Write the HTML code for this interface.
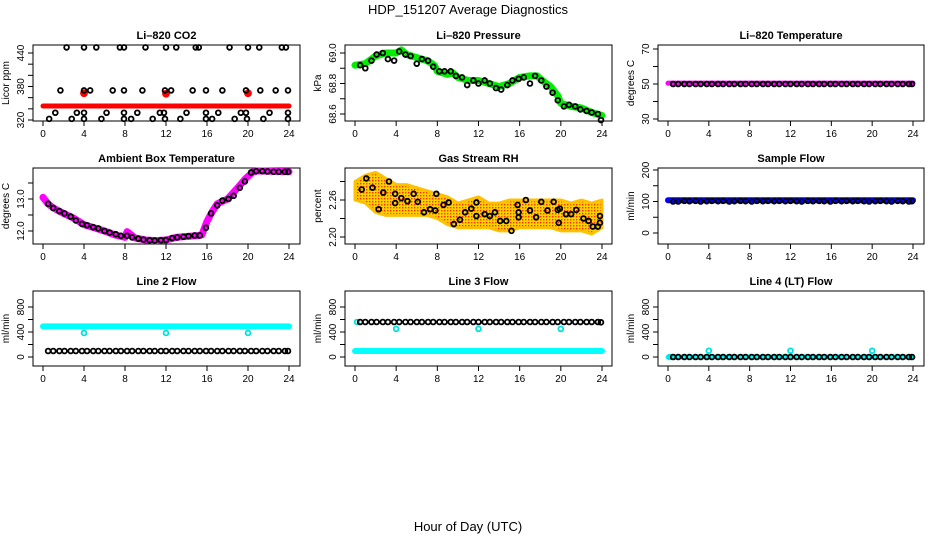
<!DOCTYPE html>
<html><head><meta charset="utf-8"><style>
body{margin:0;background:#fff;}
svg{display:block;font-family:"Liberation Sans",sans-serif;}
</style></head><body>
<svg id="c" width="936" height="540" viewBox="0 0 936 540">
<defs><pattern id="rhpat" width="3" height="3" patternUnits="userSpaceOnUse"><rect width="3" height="3" fill="#ffd200"/><rect x="0" y="0" width="1.4" height="1.4" fill="#ff3000"/></pattern></defs>
<text x="468" y="14" text-anchor="middle" font-size="13">HDP_151207  Average Diagnostics</text>
<text x="468" y="531" text-anchor="middle" font-size="13">Hour of Day (UTC)</text>
</svg>
<script>
const H=[0.5,1.0,1.6,2.1,2.7,3.2,3.8,4.3,4.9,5.4,6.0,6.5,7.1,7.6,8.2,8.7,9.3,9.8,10.4,10.9,11.5,12.0,12.6,13.1,13.7,14.2,14.8,15.3,15.9,16.4,17.0,17.5,18.1,18.6,19.2,19.7,20.3,20.8,21.4,21.9,22.5,23.0,23.6,23.9];
const xTicks=[0,4,8,12,16,20,24];
// CO2
const co2Hours=[2.3,4,5.2,7.5,7.9,10,12,13,14.9,15.2,18.2,20,21.1,23.3,23.7,1.7,4,4.6,6.8,7.9,9.7,11.9,12.5,14.6,15.9,17.5,19.8,21.2,22.7,23.9,1.2,3.3,4,6.2,7.9,9.2,11.4,11.8,14,15.9,17.1,19.3,19.8,22.1,23.9,0.6,2.8,4,5.7,7.9,8.6,10.7,11.9,13.4,15.9,16.5,18.7,19.9,21.5,23.9];
const co2Values=[450,450,450,450,450,450,450,450,450,450,450,450,450,450,450,373,373,373,373,373,373,373,373,373,373,373,373,373,373,373,333,333,333,333,333,333,333,333,333,333,333,333,333,333,333,322,322,322,322,322,322,322,322,322,322,322,322,322,322,322];
const co2BandHours=[0,6,12,18,24];
const co2BandValues=[345,345,345,345,345];
const co2RedHours=[4,12,20];
const co2RedValues=[368,367,368];
// Pressure
const presBandHours=[0,1,2,3,4,4.5,5,6,7,7.7,8,9,9.5,10,11,12,13,14,15,16,17,17.7,18,19,19.7,20,21,22,23,24];
const presBandValues=[68.92,68.93,68.98,69.0,69.0,69.02,68.99,68.97,68.95,68.92,68.88,68.86,68.87,68.84,68.82,68.82,68.80,68.78,68.80,68.84,68.85,68.85,68.83,68.78,68.72,68.67,68.65,68.64,68.61,68.59];
const presValues=[68.92,68.90,68.95,68.99,69.0,68.96,68.95,69.01,68.99,68.98,68.93,68.96,68.95,68.91,68.88,68.88,68.88,68.85,68.84,68.79,68.82,68.80,68.82,68.80,68.77,68.76,68.79,68.82,68.83,68.84,68.80,68.85,68.82,68.78,68.74,68.69,68.65,68.66,68.65,68.63,68.62,68.61,68.60,68.56];
// Li-820 temperature
const tempBandHours=[0,24];
const tempBandValues=[50.5,50.5];
const tempValues=[50,50,50,50,50,50,50,50,50,50,50,50,50,50,50,50,50,50,50,50,50,50,50,50,50,50,50,50,50,50,50,50,50,50,50,50,50,50,50,50,50,50,50,50];
// Ambient
const ambBandHours=[0,0.5,1,2,3,4,5,6,7,8,8.2,9,10,11,12,13,14,15,15.5,16,16.5,17,18,19,19.8,20.5,21,24];
const ambBandValues=[13.05,12.85,12.72,12.55,12.4,12.2,12.1,12.0,11.88,11.8,11.98,11.78,11.72,11.7,11.72,11.8,11.83,11.85,11.88,12.3,12.6,12.85,13.0,13.35,13.65,13.85,13.88,13.85];
const ambValues=[12.85,12.72,12.62,12.55,12.45,12.33,12.22,12.18,12.12,12.08,12.0,11.95,11.9,11.85,11.85,11.8,11.76,11.73,11.71,11.70,11.71,11.72,11.78,11.8,11.82,11.84,11.86,11.86,12.1,12.55,12.8,12.95,13.0,13.1,13.35,13.55,13.83,13.87,13.87,13.86,13.85,13.85,13.85,13.85];
// RH
const rhEnvHours=[0,1,2,3,4,5,6,7,8,9,10,11,12,13,14,15,16,17,18,19,20,21,22,23,24];
const rhUpper=[2.29,2.30,2.305,2.295,2.285,2.285,2.28,2.275,2.27,2.265,2.255,2.26,2.265,2.255,2.255,2.26,2.26,2.26,2.26,2.26,2.26,2.255,2.26,2.255,2.26];
const rhLower=[2.26,2.255,2.24,2.235,2.235,2.235,2.235,2.235,2.23,2.22,2.215,2.215,2.215,2.215,2.21,2.21,2.215,2.215,2.215,2.215,2.21,2.21,2.21,2.205,2.215];
const rhHours=[0.65,1.1,1.7,2.3,2.75,3.3,3.9,3.9,4.5,5.1,5.7,6.1,6.7,7.3,7.8,7.9,8.6,9.1,9.6,10.2,10.7,11.3,11.8,11.8,12.6,13.1,13.6,14.1,14.7,15.2,15.8,15.9,15.9,16.6,17,17.6,18.1,18.7,19.3,19.7,19.8,19.9,20.5,21,21.5,22.2,22.7,23.1,23.6,23.8,23.8];
const rhValues=[2.277,2.295,2.28,2.245,2.272,2.29,2.27,2.255,2.263,2.258,2.27,2.257,2.24,2.245,2.243,2.27,2.252,2.256,2.221,2.228,2.24,2.246,2.256,2.234,2.237,2.234,2.24,2.226,2.226,2.21,2.252,2.24,2.232,2.26,2.243,2.232,2.257,2.243,2.257,2.244,2.223,2.246,2.237,2.237,2.244,2.23,2.226,2.217,2.217,2.223,2.234];
// Sample flow
const sfBandHours=[0,24];
const sfBandValues=[104,104];
const sfValues=[100,100,102,101,102,100,101,102,101,102,100,101,102,101,100,102,101,102,101,102,101,102,101,100,102,101,102,101,100,102,101,102,101,102,101,100,101,102,101,100,102,101,100,101];
// Line 2
const l2BandHours=[0,24];
const l2BandValues=[490,490];
const l2Values=[96,96,96,96,96,96,96,96,96,96,96,96,96,96,96,96,96,96,96,96,96,96,96,96,96,96,96,96,96,96,96,96,96,96,96,96,96,96,96,96,96,96,96,96];
const l2OutHours=[4,12,20];
const l2OutValues=[385,385,385];
// Line 3
const l3BandHours=[0,24];
const l3BandValues=[96,96];
const l3Values=[560,560,560,560,560,560,560,560,560,560,560,560,560,560,560,560,560,560,560,560,560,560,560,560,560,560,560,560,560,560,560,560,560,560,560,560,560,560,560,560,560,560,560,555];
const l3OutHours=[0.2,4,12,20];
const l3OutValues=[560,450,450,450];
// Line 4
const l4BandHours=[0,24];
const l4BandValues=[0,0];
const l4Values=[0,0,0,0,0,0,0,0,0,0,0,0,0,0,0,0,0,0,0,0,0,0,0,0,0,0,0,0,0,0,0,0,0,0,0,0,0,0,0,0,0,0,0,0];
const l4OutHours=[0.2,4,12,20];
const l4OutValues=[0,100,100,100];

const NS='http://www.w3.org/2000/svg';
const svg=document.getElementById('c');
function mk(tag,attrs,parent){const e=document.createElementNS(NS,tag);for(const k in attrs)e.setAttribute(k,attrs[k]);(parent||svg).appendChild(e);return e;}
const cols=[{l:33,r:300,x0:43,x24:289},{l:345,r:612,x0:355,x24:602},{l:658,r:924,x0:668,x24:913}];
const rows=[{t:45,b:121},{t:168,b:244},{t:291,b:366}];

function panel(name,title,ci,ri,ylab,yTicks,yLabels,v1,p1,v2,p2){
  const c=cols[ci],r=rows[ri];
  const g=mk('g',{});
  
  
  const sx=h=>c.x0+(c.x24-c.x0)*h/24;
  const sy=v=>p1+(p2-p1)*(v-v1)/(v2-v1);
  const t=mk('text',{x:(c.l+c.r)/2,y:r.t-6,'text-anchor':'middle','font-size':11,'font-weight':'bold'},g);
  t.textContent=title;
  
  
  const box=mk('rect',{x:c.l,y:r.t,width:c.r-c.l,height:r.b-r.t,fill:'none',stroke:'#000','stroke-width':1},g);
  
  
  const xa=mk('g',{},g);
  
  
  mk('line',{x1:sx(0),x2:sx(24),y1:r.b,y2:r.b,stroke:'#000'},xa);
  xTicks.forEach(h=>{mk('line',{x1:sx(h),x2:sx(h),y1:r.b,y2:r.b+5,stroke:'#000'},xa);
    const tl=mk('text',{x:sx(h),y:r.b+16,'text-anchor':'middle','font-size':10},xa);tl.textContent=h;});
  const ya=mk('g',{},g);
  
  
  mk('line',{x1:c.l,x2:c.l,y1:sy(yTicks[0]),y2:sy(yTicks[yTicks.length-1]),stroke:'#000'},ya);
  yTicks.forEach(v=>{const y=sy(v);mk('line',{x1:c.l,x2:c.l-5,y1:y,y2:y,stroke:'#000'},ya);});
  yLabels.forEach(v=>{const y=sy(parseFloat(v));const x=c.l-9;
    const tl=mk('text',{x:x,y:y,'text-anchor':'middle','font-size':10,transform:`rotate(-90 ${x} ${y})`},ya);tl.textContent=v;});
  const yl=mk('text',{x:c.l-24,y:(r.t+r.b)/2,'text-anchor':'middle','font-size':10,transform:`rotate(-90 ${c.l-24} ${(r.t+r.b)/2})`},g);
  yl.textContent=ylab;
  
  
  return {g,sx,sy};
}
function band(P,hs,vs,color,w,name){
  const pl=mk('polyline',{points:hs.map((h,i)=>P.sx(h)+','+P.sy(vs[i])).join(' '),fill:'none',stroke:color,'stroke-width':w,'stroke-linecap':'round','stroke-linejoin':'round'},P.g);
  
  
}
function pts(P,hs,vs,color,name,rad,fill){
  const g=mk('g',{},P.g);
  
  
  hs.forEach((h,i)=>{mk('circle',{cx:P.sx(h),cy:P.sy(vs[i]),r:rad||2.4,fill:fill||'none',stroke:color,'stroke-width':1.8},g);});
}
let P;
P=panel('co2-panel','Li–820 CO2',0,0,'Licor ppm',[320,340,360,380,400,420,440],['320','380','440'],440,53,320,120);
band(P,co2BandHours,co2BandValues,'#ff0000',5,'co2-red-series');
pts(P,co2RedHours,co2RedValues,'#ff0000','co2-red-outliers',3,'#ff0000');
pts(P,co2Hours,co2Values,'#000','co2-points');

P=panel('pressure-panel','Li–820 Pressure',1,0,'kPa',[68.6,68.7,68.8,68.9,69.0],['68.6','68.8','69.0'],69.0,53,68.6,114);
band(P,presBandHours,presBandValues,'#00ee00',7,'pressure-green-series');
pts(P,H,presValues,'#000','pressure-points');

P=panel('temperature-panel','Li–820 Temperature',2,0,'degrees C',[30,40,50,60,70],['30','50','70'],70,49,30,119);
band(P,tempBandHours,tempBandValues,'#ff00ff',5,'temperature-magenta-series');
pts(P,H,tempValues,'#000','temperature-points');

P=panel('ambient-panel','Ambient Box Temperature',0,1,'degrees C',[12.0,12.5,13.0,13.5],['12.0','13.0'],13.0,199,12.0,231);
band(P,ambBandHours,ambBandValues,'#ff00ff',7,'ambient-magenta-series');
pts(P,H,ambValues,'#000','ambient-points');

P=panel('rh-panel','Gas Stream RH',1,1,'percent',[2.20,2.23,2.26,2.29],['2.20','2.26'],2.26,200,2.20,237);
{const up=rhEnvHours.map((h,i)=>P.sx(h)+','+P.sy(rhUpper[i]));const lo=rhEnvHours.map((h,i)=>P.sx(h)+','+P.sy(rhLower[i])).reverse();
 const pg=mk('polygon',{points:up.concat(lo).join(' '),fill:'url(#rhpat)',stroke:'#ffc000','stroke-width':3,'stroke-linejoin':'round'},P.g);
 
 }
pts(P,rhHours,rhValues,'#000','rh-points');

P=panel('sample-flow-panel','Sample Flow',2,1,'ml/min',[0,50,100,150,200],['0','100','200'],200,170,0,233);
band(P,sfBandHours,sfBandValues,'#0000ff',6,'sample-flow-blue-series');
pts(P,H,sfValues,'#000','sample-flow-points');

P=panel('line2-panel','Line 2 Flow',0,2,'ml/min',[0,200,400,600,800],['0','400','800'],800,307,0,357);
band(P,l2BandHours,l2BandValues,'#00ffff',6,'line2-cyan-series');
pts(P,l2OutHours,l2OutValues,'#00e0e0','line2-cyan-outliers');
pts(P,H,l2Values,'#000','line2-points');

P=panel('line3-panel','Line 3 Flow',1,2,'ml/min',[0,200,400,600,800],['0','400','800'],800,307,0,357);
band(P,l3BandHours,l3BandValues,'#00ffff',6,'line3-cyan-series');
pts(P,l3OutHours,l3OutValues,'#00e0e0','line3-cyan-outliers');
pts(P,H,l3Values,'#000','line3-points');

P=panel('line4-panel','Line 4 (LT) Flow',2,2,'ml/min',[0,200,400,600,800],['0','400','800'],800,307,0,357);
band(P,l4BandHours,l4BandValues,'#00ffff',5,'line4-cyan-series');
pts(P,l4OutHours,l4OutValues,'#00e0e0','line4-cyan-outliers');
pts(P,H,l4Values,'#000','line4-points');
</script>
</body></html>
